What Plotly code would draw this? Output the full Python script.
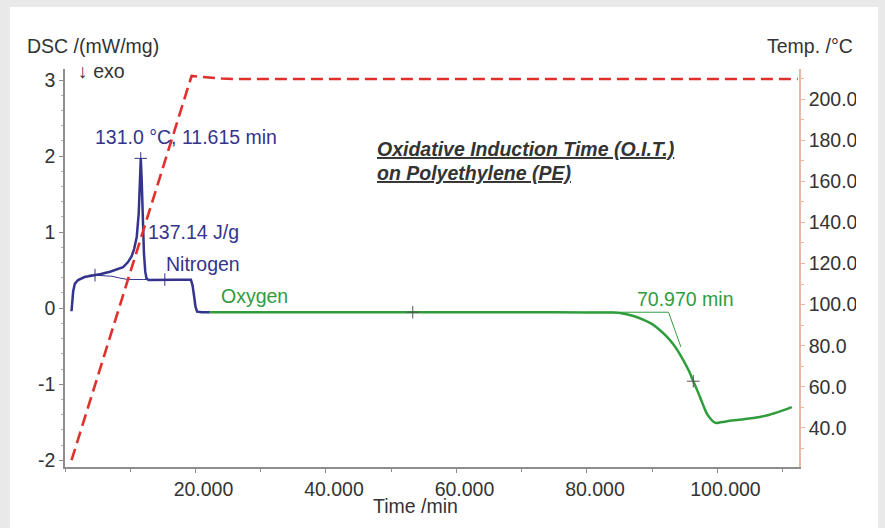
import plotly.graph_objects as go

# ---------------- data ----------------
n2_time = [1.0, 1.1, 1.25, 1.5, 2.0, 3.0, 4.3, 5.5, 6.9, 8.0, 8.9, 9.6, 10.2, 10.6, 11.0,
           11.3, 11.5, 11.615, 11.75, 11.9, 12.1, 12.3, 12.5, 12.8, 14.5, 17.0, 19.3,
           19.55, 19.8, 20.0, 20.25, 21.0, 22.2]
n2_dsc = [-0.04, 0.10, 0.22, 0.32, 0.37, 0.41, 0.43, 0.45, 0.48, 0.51, 0.54, 0.60, 0.68,
          0.78, 0.94, 1.25, 1.65, 1.97, 1.70, 1.20, 0.72, 0.48, 0.39, 0.37, 0.375, 0.375,
          0.375, 0.30, 0.15, 0.02, -0.045, -0.052, -0.053]

n2_base_time = [4.6, 6.0, 7.2, 8.2, 9.0, 9.6, 12.0, 15.3]
n2_base_dsc = [0.434, 0.43, 0.42, 0.40, 0.385, 0.378, 0.377, 0.376]

n2_mark_time = [4.6, 11.615, 15.3]
n2_mark_dsc = [0.434, 1.97, 0.376]

o2_time = [22.2, 30, 40, 50, 60, 70, 80, 84, 85.5, 87, 88.6, 90, 91.2, 92.3, 93.2, 94.0,
           94.8, 95.6, 96.3, 97.0, 97.7, 98.4, 99.0, 99.5, 99.9, 100.5, 101.5, 103, 104.5,
           106.5, 108.0, 109.5, 110.5, 111.4]
o2_dsc = [-0.053, -0.052, -0.052, -0.052, -0.052, -0.053, -0.055, -0.058, -0.07, -0.10,
          -0.15, -0.21, -0.29, -0.38, -0.47, -0.57, -0.69, -0.82, -0.96, -1.10, -1.25,
          -1.39, -1.46, -1.50, -1.51, -1.50, -1.485, -1.47, -1.455, -1.43, -1.40, -1.36,
          -1.33, -1.30]

o2_tangent_time = [80.0, 92.5, 94.4]
o2_tangent_dsc = [-0.053, -0.053, -0.51]

o2_mark_time = [53.3, 96.3]
o2_mark_dsc = [-0.053, -0.96]

temp_time = [1.0, 19.4, 20.5, 22.0, 24.0, 26.0, 112.3]
temp_val = [24.3, 211.2, 210.9, 210.4, 210.0, 209.7, 209.7]

x_tickvals = [20, 40, 60, 80, 100]
x_ticktext = ["20.000", "40.000", "60.000", "80.000", "100.000"]
y_tickvals = [3, 2, 1, 0, -1, -2]
y_ticktext = ["3", "2", "1", "0", "-1", "-2"]
y2_tickvals = [40, 60, 80, 100, 120, 140, 160, 180, 200]
y2_ticktext = ["40.0", "60.0", "80.0", "100.0", "120.0", "140.0", "160.0", "180.0", "200.0"]

# ---------------- styles ----------------
W, H = 885, 528
L, R, T, B = 65, 799, 69, 466.7
NAVY = "#34348c"
GREEN = "#2f9d3c"
RED = "#e0302c"
SALMON = "#ebb8a8"
GRAYAX = "#8e8e8e"
TXT = "#333333"
FONT = "Liberation Sans, Arial, sans-serif"
FS = 19.5


def px(x):
    return (x - L) / (R - L)


def py(y):
    return (B - y) / (B - T)


fig = go.Figure()

fig.add_trace(go.Scatter(x=temp_time, y=temp_val, yaxis="y2", mode="lines",
                         line=dict(color=RED, width=2.6, dash="12px,6px"),
                         hoverinfo="skip", showlegend=False))
fig.add_trace(go.Scatter(x=n2_base_time, y=n2_base_dsc, mode="lines",
                         line=dict(color=NAVY, width=1), showlegend=False))
fig.add_trace(go.Scatter(x=n2_time, y=n2_dsc, mode="lines",
                         line=dict(color=NAVY, width=2.5), showlegend=False))
fig.add_trace(go.Scatter(x=o2_tangent_time, y=o2_tangent_dsc, mode="lines",
                         line=dict(color=GREEN, width=1), showlegend=False))
fig.add_trace(go.Scatter(x=o2_time, y=o2_dsc, mode="lines", line_shape="spline",
                         line=dict(color=GREEN, width=2.5, smoothing=0.6), showlegend=False))
fig.add_trace(go.Scatter(x=n2_mark_time, y=n2_mark_dsc, mode="markers",
                         marker=dict(symbol="cross-thin", size=9,
                                     line=dict(color=NAVY, width=1)),
                         showlegend=False))
fig.add_trace(go.Scatter(x=o2_mark_time, y=o2_mark_dsc, mode="markers",
                         marker=dict(symbol="cross-thin", size=9,
                                     line=dict(color="#555555", width=1)),
                         showlegend=False))

annos = []


def note(text, x, y, color=TXT, size=FS, xanchor="left"):
    annos.append(dict(text=text, x=px(x), y=py(y), xref="paper", yref="paper",
                      xanchor=xanchor, yanchor="middle", showarrow=False,
                      font=dict(family=FONT, size=size, color=color)))


note("DSC /(mW/mg)", 25, 46)
note("↓ exo", 76, 71)
note("Temp. /°C", 765, 46)
note("Time /min", 415, 506, xanchor="center")
note("131.0 °C, 11.615 min", 93, 137, color=NAVY)
note("137.14 J/g", 146, 232, color=NAVY)
note("Nitrogen", 164, 264, color=NAVY)
note("Oxygen", 219, 296, color=GREEN)
note("70.970 min", 635, 299, color=GREEN)
note("<b><i><span style='text-decoration:underline'>Oxidative Induction Time (O.I.T.)</span></i></b>",
     375, 148.5, size=19.5)
note("<b><i><span style='text-decoration:underline'>on Polyethylene (PE)</span></i></b>",
     375, 172.5, size=19.5)

shapes = [
    # white panel
    dict(type="rect", xref="paper", yref="paper", x0=px(10), x1=px(878), y0=py(528),
         y1=py(7), fillcolor="white", line=dict(width=0), layer="below"),
    # clip of right tick labels
    dict(type="rect", xref="paper", yref="paper", x0=px(856), x1=px(878), y0=py(470),
         y1=py(80), fillcolor="white", line=dict(width=0), layer="above"),
]

fig.update_layout(
    width=W, height=H,
    margin=dict(l=L, r=W - R, t=T, b=H - B),
    paper_bgcolor="#e9e9e9",
    plot_bgcolor="white",
    showlegend=False,
    font=dict(family=FONT, size=FS, color=TXT),
    annotations=annos,
    shapes=shapes,
    xaxis=dict(range=[0, 112.5], showgrid=False, zeroline=False,
               showline=True, linecolor=GRAYAX, linewidth=1.5,
               tickmode="array", tickvals=x_tickvals, ticktext=x_ticktext,
               ticks="outside", ticklen=4, tickcolor=GRAYAX, tickwidth=1,
               ticklabelshift=8,
               minor=dict(dtick=10, tick0=0, ticks="outside", ticklen=3,
                          tickcolor=GRAYAX),
               tickfont=dict(size=FS, color=TXT)),
    yaxis=dict(range=[-2.088, 3.145], showgrid=False, zeroline=False,
               showline=True, linecolor=GRAYAX, linewidth=1.5,
               tickmode="array", tickvals=y_tickvals, ticktext=y_ticktext,
               ticks="outside", ticklen=4, tickcolor=GRAYAX,
               minor=dict(dtick=0.2, tick0=0, ticks="outside", ticklen=2,
                          tickcolor="#b0b0b0"),
               tickfont=dict(size=FS, color=TXT)),
    yaxis2=dict(range=[21.0, 214.6], overlaying="y", side="right",
                showgrid=False, zeroline=False,
                showline=True, linecolor=SALMON, linewidth=1.5,
                tickmode="array", tickvals=y2_tickvals, ticktext=y2_ticktext,
                ticks="outside", ticklen=4, tickcolor=SALMON,
                minor=dict(dtick=10, tick0=0, ticks="outside", ticklen=3,
                           tickcolor=SALMON),
                tickfont=dict(size=FS, color=TXT)),
)

fig.write_html("out.html")
